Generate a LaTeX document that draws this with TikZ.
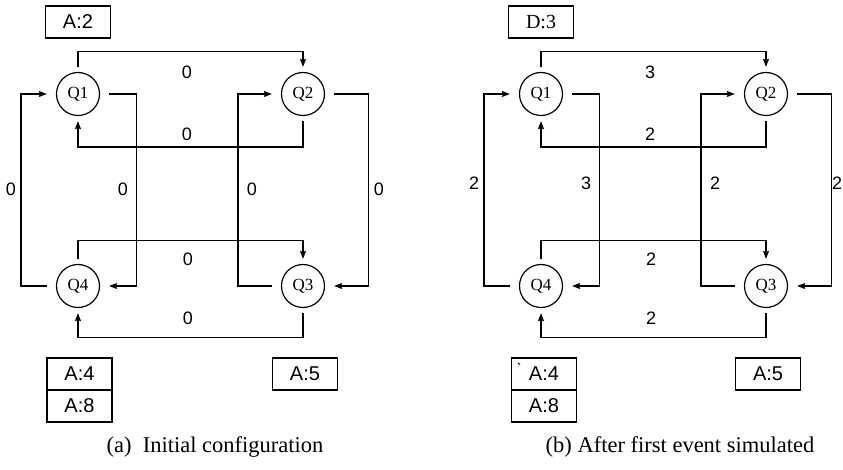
\documentclass[tikz,border=0pt]{standalone}
\usepackage{fontspec}
\setmainfont{Liberation Serif}
\newfontfamily\lblfont{Liberation Sans}
\usetikzlibrary{arrows.meta}

\tikzset{
  wire/.style={line width=1.2pt, line join=miter},
  arr/.style={wire, -{Stealth[length=8pt,width=6pt,inset=1pt]}},
  queue/.style={circle, draw, line width=1.2pt, minimum size=43pt, inner sep=0pt,
    font=\fontsize{17}{19}\selectfont},
  wt/.style={font=\lblfont\fontsize{18}{20}\selectfont, inner sep=0pt},
  evbox/.style={draw, line width=1.2pt, minimum width=65pt, minimum height=32pt,
    inner sep=0pt, font=\lblfont\fontsize{20}{22}\selectfont},
  captext/.style={font=\fontsize{22.5}{25}\selectfont, inner sep=0pt},
  vgap/.style={shorten <=5pt, shorten >=5pt},
  hgap/.style={shorten <=9pt, shorten >=9pt},
}

% Four queues wired in a ring, with the link weights as arguments:
% #1 prefix, #2 Q1->Q2, #3 Q2->Q1, #4 Q4->Q1, #5 Q1->Q4,
% #6 Q3->Q2, #7 Q2->Q3, #8 Q4->Q3, #9 Q3->Q4
\newcommand{\qnet}[9]{
  \node[queue] (#1q1) at (78,94)  {Q1};
  \node[queue] (#1q2) at (303,94) {Q2};
  \node[queue] (#1q4) at (78,286) {Q4};
  \node[queue] (#1q3) at (303,286){Q3};
  % top pair
  \draw[arr,vgap] (#1q1.north) -- ++(0,-20) -| (#1q2.north);
  \draw[arr,vgap] (#1q2.south) -- ++(0,31) -| (#1q1.south);
  % bottom pair
  \draw[arr,vgap] (#1q4.north) -- ++(0,-23) -| (#1q3.north);
  \draw[arr,vgap] (#1q3.south) -- ++(0,29) -| (#1q4.south);
  % vertical loops
  \draw[arr,hgap] (#1q4.west) -- ++(-35,0) |- (#1q1.west);
  \draw[arr,hgap] (#1q1.east) -- ++(36,0) |- (#1q4.east);
  \draw[arr,hgap] (#1q3.west) -- ++(-43,0) |- (#1q2.west);
  \draw[arr,hgap] (#1q2.east) -- ++(43,0) |- (#1q3.east);
  % weights
  \node[wt] (#1w12) at (187,72)  {#2};
  \node[wt] (#1w21) at (187,134) {#3};
  \node[wt] (#1w41) at (11,\vly)  {#4};
  \node[wt] (#1w14) at (123,\vly) {#5};
  \node[wt] (#1w32) at (252,\vly) {#6};
  \node[wt] (#1w23) at (\rwx,\vly) {#7};
  \node[wt] (#1w43) at (188,259) {#8};
  \node[wt] (#1w34) at (188,318) {#9};
}

\begin{document}
\begin{tikzpicture}[x=1pt,y=-1pt]
  \useasboundingbox (0,0) rectangle (843,470);

  % (a) initial configuration
  \begin{scope}
    \def\vly{189}\def\rwx{379}
    \qnet{a}{0}{0}{0}{0}{0}{0}{0}{0}
    \node[evbox] (aev1) at (78,22) {A:2};
    \node[evbox] (aev4) at (79.5,374) {A:4};
    \node[evbox] (aev8) at (79.5,406) {A:8};
    \node[evbox] (aev3) at (305,374) {A:5};
    \node[captext] (acap) at (215,447) {(a)\ \ Initial configuration};
  \end{scope}

  % (b) after the first event
  \begin{scope}[xshift=463pt]
    \def\vly{183}\def\rwx{374}
    \qnet{b}{3}{2}{2}{3}{2}{2}{2}{2}
    \node[evbox, font=\fontsize{20}{22}\selectfont] (bev1) at (78,22) {D:3};
    \node[evbox] (bev4) at (81,374) {A:4};
    \node[evbox] (bev8) at (81,406) {A:8};
    \node[evbox] (bev3) at (305,374) {A:5};
    \draw[line width=1pt] (55,363) -- (57,364.5);
    \node[captext] (bcap) at (217,447) {(b) After first event simulated};
  \end{scope}
\end{tikzpicture}
\end{document}
